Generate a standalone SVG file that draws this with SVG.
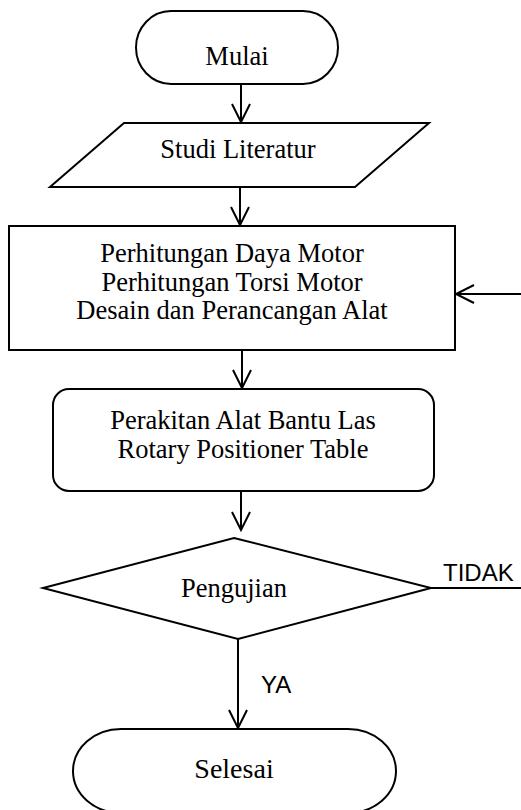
<svg xmlns="http://www.w3.org/2000/svg" width="521" height="810" viewBox="0 0 521 810">
<style>
.s{fill:#fff;stroke:#000;stroke-width:2}
.c{fill:none;stroke:#000;stroke-width:2}
.t{font-family:"Liberation Serif","Times New Roman",serif;font-size:26.5px;fill:#000;text-anchor:middle}
.l{font-family:"Liberation Sans",Arial,sans-serif;font-size:24px;fill:#000}
</style>
<defs>
<marker id="ah" markerUnits="userSpaceOnUse" markerWidth="24" markerHeight="24" viewBox="-20 -12 24 24" refX="0" refY="0" orient="auto" overflow="visible">
<path d="M-18,-9 L0,0 L-18,9" fill="none" stroke="#000" stroke-width="2"/>
</marker>
</defs>
<rect width="521" height="810" fill="#fff"/>
<g id="mulai">
<path class="s" d="M171,11 H303 A35,36.5 0 0 1 303,84 H171 A35,36.5 0 0 1 171,11 Z"/>
<text class="t" x="237" y="65">Mulai</text>
</g>
<g id="studi">
<polygon class="s" points="124,123 429,123 355,187 50,187"/>
<text class="t" x="238" y="158">Studi Literatur</text>
</g>
<g id="perhitungan">
<rect class="s" x="9" y="226" width="446" height="124"/>
<text class="t" x="232" y="262">Perhitungan Daya Motor</text>
<text class="t" x="232" y="291">Perhitungan Torsi Motor</text>
<text class="t" x="232" y="319">Desain dan Perancangan Alat</text>
</g>
<g id="perakitan">
<rect class="s" x="53" y="389" width="381" height="102" rx="16" ry="16"/>
<text class="t" x="243" y="429">Perakitan Alat Bantu Las</text>
<text class="t" x="243" y="458">Rotary Positioner Table</text>
</g>
<g id="pengujian">
<polygon class="s" points="234,538 431,588 238,639 43,588"/>
<text class="t" x="234" y="597">Pengujian</text>
</g>
<g id="selesai">
<path class="s" d="M121,729 H348 A48,42 0 0 1 348,813 H121 A48,42 0 0 1 121,729 Z"/>
<text class="t" x="234" y="778" style="font-size:28px">Selesai</text>
</g>
<g id="connectors">
<line class="c" x1="241" y1="84" x2="241" y2="122" marker-end="url(#ah)"/>
<line class="c" x1="240" y1="187" x2="240" y2="225" marker-end="url(#ah)"/>
<line class="c" x1="242" y1="350" x2="242" y2="388" marker-end="url(#ah)"/>
<line class="c" x1="241" y1="491" x2="241" y2="530" marker-end="url(#ah)"/>
<line class="c" x1="238" y1="639" x2="238" y2="728" marker-end="url(#ah)"/>
<line class="c" x1="431" y1="588" x2="521" y2="588"/>
<line class="c" x1="521" y1="294" x2="456" y2="294" marker-end="url(#ah)"/>
<text class="l" x="443" y="581">TIDAK</text>
<text class="l" x="261" y="693">YA</text>
</g>
</svg>
